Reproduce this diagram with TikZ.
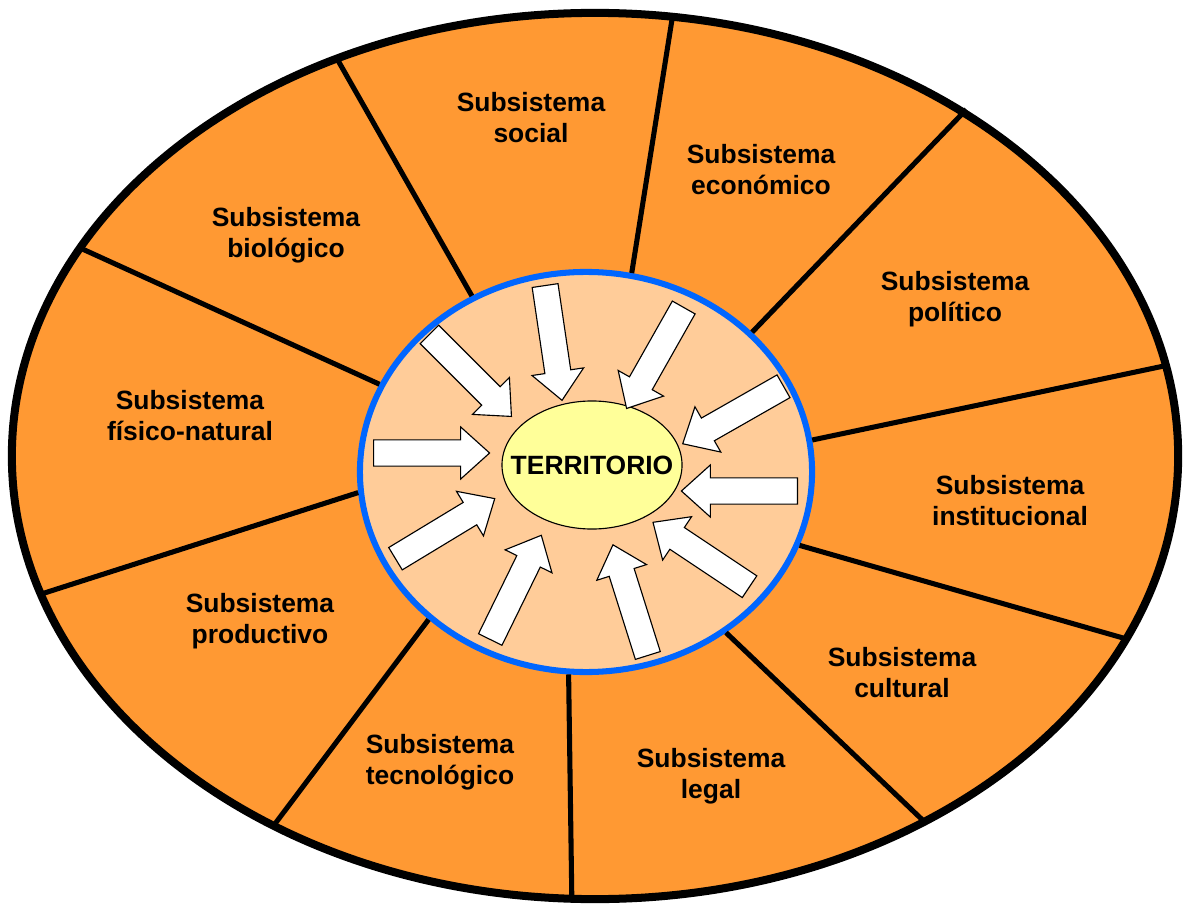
\documentclass[tikz,border=0pt]{standalone}
\usepackage{fontspec}
\setmainfont{Liberation Sans}
\usetikzlibrary{shapes.geometric,shapes.arrows}

\definecolor{naranja}{HTML}{FF9933}
\definecolor{durazno}{HTML}{FFCC99}
\definecolor{amarillo}{HTML}{FFFF99}
\definecolor{azul}{HTML}{0066FF}

\begin{document}
\begin{tikzpicture}[x=0.025cm, y=-0.025cm,
			sub/.style={font=\fontsize{18.8}{22}\selectfont\bfseries, align=center},
			corte/.style={line width=3.6pt, shorten <=2.15pt},
			flecha/.style={single arrow, draw=black, fill=white, line width=0.8pt, minimum height=2.9cm, anchor=tail,
				inner xsep=0pt, inner ysep=0.3125cm, single arrow head extend=0.325cm, single arrow tip angle=84}]
			
			\useasboundingbox (0,0) rectangle (1187,905);
			
			\node[ellipse, draw, line width=5.7pt, fill=naranja, inner sep=0pt, outer sep=0pt,
				minimum width=29.15cm, minimum height=22.15cm] (exterior) at (595,456) {};
			
			\node[ellipse, draw=azul, line width=4.3pt, fill=durazno, inner sep=0pt, outer sep=0pt,
				minimum width=11.3cm, minimum height=10cm] (interior) at (586,472) {};
			
			\draw[corte] (interior.123) -- (exterior.123.6);
			\draw[corte] (interior.77.6) -- (exterior.80.5);
			\draw[corte, shorten >=-3pt] (interior.40.8) -- (exterior.43.7);
			\draw[corte] (interior.8.7) -- (exterior.9.3);
			\draw[corte] (interior.-19.6) -- (exterior.-19.8);
			\draw[corte] (interior.-49.6) -- (exterior.-48.3);
			\draw[corte] (interior.-95.4) -- (exterior.-93.6);
			\draw[corte] (interior.-137.6) -- (exterior.-131.1);
			\draw[corte] (interior.-175.5) -- (exterior.-166.3);
			\draw[corte] (interior.157.9) -- (exterior.158.6);
			
			\node[ellipse, draw, line width=0.8pt, fill=amarillo, inner sep=0pt, minimum width=4.5cm, minimum height=3.2cm,
				label={[font=\fontsize{18.8}{22}\selectfont\bfseries]center:TERRITORIO}] (territorio) at (592,465) {};
			
			\node[flecha, rotate=-45] (f1) at (429,334) {};
			\node[flecha, rotate=-81.6] (f2) at (545,285) {};
			\node[flecha, rotate=-119.5] (f3) at (684,307) {};
			\node[flecha, rotate=-150.3] (f4) at (784,386) {};
			\node[flecha, rotate=180] (f5) at (798,491) {};
			\node[flecha, rotate=146.3] (f6) at (750,587) {};
			\node[flecha, rotate=107.5] (f7) at (648,656) {};
			\node[flecha, rotate=63.9] (f8) at (490,640) {};
			\node[flecha, rotate=31.2] (f9) at (395,559) {};
			\node[flecha, rotate=0] (f10) at (373,453) {};
			
			\node[sub] (social) at (531,118) {Subsistema\\social};
			\node[sub] (economico) at (761,170) {Subsistema\\económico};
			\node[sub] (politico) at (955,299) {Subsistema\\político};
			\node[sub] (institucional) at (1010,501) {Subsistema\\institucional};
			\node[sub] (cultural) at (902,673) {Subsistema\\cultural};
			\node[sub] (legal) at (711,776) {Subsistema\\legal};
			\node[sub] (tecnologico) at (440,762) {Subsistema\\tecnológico};
			\node[sub] (productivo) at (260,621) {Subsistema\\productivo};
			\node[sub] (fisico) at (190,416) {Subsistema\\físico-natural};
			\node[sub] (biologico) at (286,235) {Subsistema\\biológico};
			
		\end{tikzpicture}
\end{document}
